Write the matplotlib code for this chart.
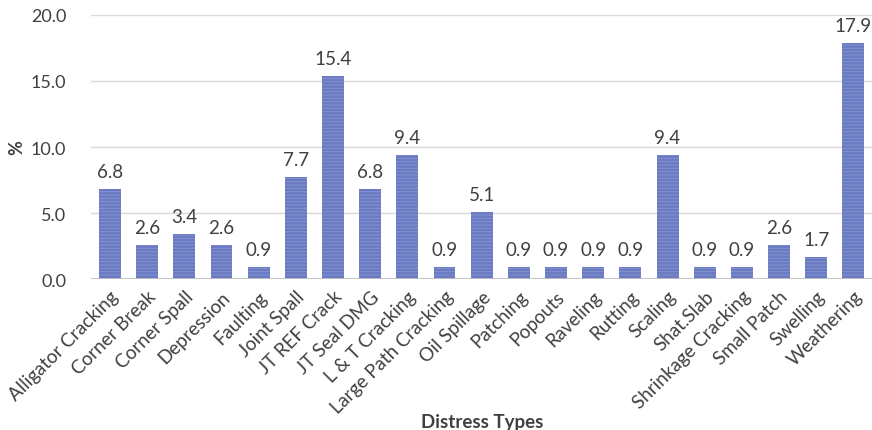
import matplotlib
matplotlib.use("Agg")
import matplotlib.pyplot as plt
import numpy as np

plt.rcParams['font.family'] = ['Lato', 'DejaVu Sans']
plt.rcParams['hatch.linewidth'] = 0.6

distress_types = ["Alligator Cracking", "Corner Break", "Corner Spall", "Depression",
                  "Faulting", "Joint Spall", "JT REF Crack", "JT Seal DMG",
                  "L & T Cracking", "Large Path Cracking", "Oil Spillage", "Patching",
                  "Popouts", "Raveling", "Rutting", "Scaling", "Shat.Slab",
                  "Shrinkage Cracking", "Small Patch", "Swelling", "Weathering"]
percent = [6.8, 2.6, 3.4, 2.6, 0.9, 7.7, 15.4, 6.8, 9.4, 0.9, 5.1, 0.9,
           0.9, 0.9, 0.9, 9.4, 0.9, 0.9, 2.6, 1.7, 17.9]
yticks = [0, 5, 10, 15, 20]

txt = '#404040'

fig = plt.figure(figsize=(8.72, 4.31), dpi=100)
ax = fig.add_axes([0.1048, 0.350, 0.8952, 0.613])

x = np.arange(len(distress_types))
bars = ax.bar(x, percent, width=0.59, color='#6b7bc3', edgecolor='#8795d0',
              linewidth=0, hatch='-----', zorder=3)

# value labels above each bar
for xi, v in zip(x, percent):
    ax.annotate(f"{v:.1f}", (xi, v), xytext=(0, 6.5), textcoords='offset points',
                ha='center', va='bottom', fontsize=13.5, color=txt)

ax.set_xlim(-0.5, len(distress_types) - 0.5)
ax.set_ylim(0, 20)
ax.set_yticks(yticks)
ax.set_yticklabels([f"{t:.1f}" for t in yticks], fontsize=13, color=txt)
ax.yaxis.grid(True, color='#d9d9d9', linewidth=1, zorder=0)
ax.set_axisbelow(True)
ax.axhline(0, color='#bfbfbf', linewidth=2, zorder=4)

ax.set_xticks(x)
ax.set_xticklabels(distress_types, rotation=45, ha='right', rotation_mode='anchor',
                   fontsize=13.5, color=txt)
ax.tick_params(axis='both', length=0)
ax.tick_params(axis='y', pad=18)
ax.tick_params(axis='x', pad=6)

for s in ax.spines.values():
    s.set_visible(False)

ax.set_ylabel("%", fontsize=13, fontweight='bold', color=txt)
ax.yaxis.set_label_coords(-0.085, 0.5)
fig.text(0.553, 0.0, "Distress Types", ha='center', va='bottom',
         fontsize=13.5, fontweight='bold', color=txt)

fig.savefig("out.png", dpi=100)
